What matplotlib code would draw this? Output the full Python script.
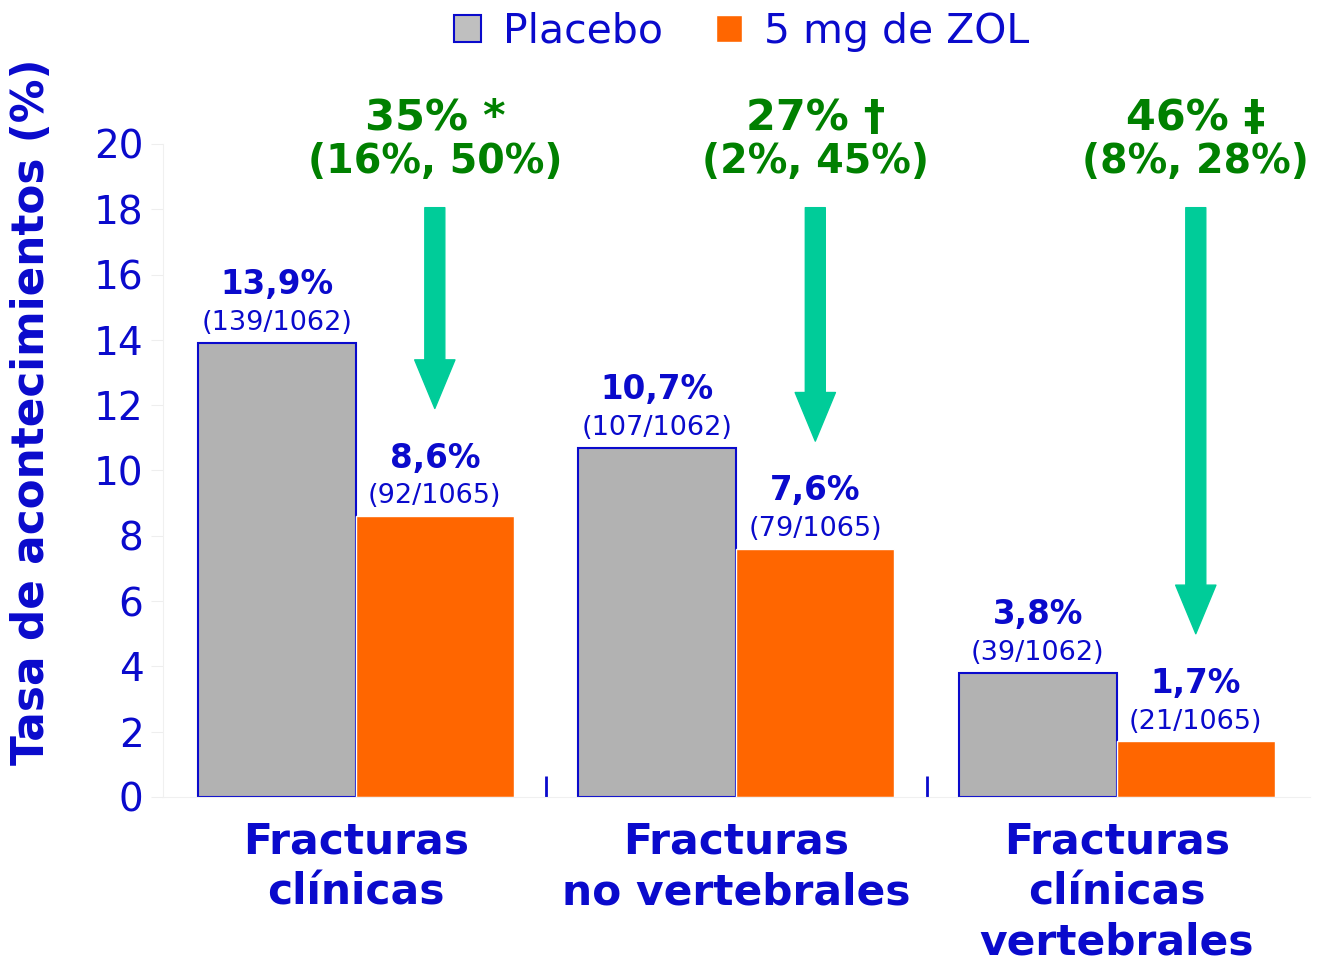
import numpy as np
import matplotlib
matplotlib.use("Agg")
from matplotlib import pyplot as plt
from matplotlib.patches import Patch
import matplotlib.transforms as mtransforms

categories = ["Fracturas\nclínicas", "Fracturas\nno vertebrales", "Fracturas\nclínicas\nvertebrales"]
placebo = [13.9, 10.7, 3.8]
zol = [8.6, 7.6, 1.7]
placebo_labels = ["13,9%", "10,7%", "3,8%"]
placebo_counts = ["(139/1062)", "(107/1062)", "(39/1062)"]
zol_labels = ["8,6%", "7,6%", "1,7%"]
zol_counts = ["(92/1065)", "(79/1065)", "(21/1065)"]
reduction = ["35% *", "27% †", "46% ‡"]
reduction_ci = ["(16%, 50%)", "(2%, 45%)", "(8%, 28%)"]

BLUE = "#0A0ACC"
GRAY = "#B2B2B2"
ORANGE = "#FF6600"
GREEN = "#008000"
ARROW = "#00CC99"

plt.rcParams['font.family'] = ['DejaVu Sans']

fig = plt.figure(figsize=(13.27, 9.6), dpi=100)
ax = fig.add_axes([0.1228, 0.1698, 0.8642, 0.6802])

x = np.arange(len(categories))
w = 0.415
ax.bar(x - w / 2, placebo, w, color=GRAY, edgecolor=BLUE, linewidth=1.5)
ax.bar(x + w / 2, zol, w, color=ORANGE, edgecolor="white", linewidth=1)

for i in range(len(x)):
    for xpos, val, lab, cnt in [(x[i] - w / 2, placebo[i], placebo_labels[i], placebo_counts[i]),
                                (x[i] + w / 2, zol[i], zol_labels[i], zol_counts[i])]:
        ax.annotate(cnt, (xpos, val), xytext=(0, 5), textcoords="offset points",
                    ha="center", va="bottom", color=BLUE, fontsize=19.5)
        ax.annotate(lab, (xpos, val), xytext=(0, 30), textcoords="offset points",
                    ha="center", va="bottom", color=BLUE, fontsize=23.5, fontweight="bold")

# reduction arrows and text
trans = mtransforms.blended_transform_factory(ax.transData, ax.transAxes)
for i in range(len(x)):
    xa = x[i] + w / 2
    ax.annotate("", xy=(xa, zol[i] + 3.3), xytext=(xa, 18.05),
                arrowprops=dict(arrowstyle="simple,head_width=1.45,head_length=1.75,tail_width=0.72",
                                color=ARROW, mutation_scale=20, shrinkA=0, shrinkB=0))
    ax.text(xa, 0.972, reduction_ci[i], transform=trans, ha="center", va="center",
            color=GREEN, fontsize=28.5, fontweight="bold", clip_on=False)
    ax.text(xa, 1.040, reduction[i], transform=trans, ha="center", va="center",
            color=GREEN, fontsize=31, fontweight="bold", clip_on=False)

ax.set_xlim(-0.507, 2.507)
ax.set_ylim(0, 20)
ax.set_yticks(np.arange(0, 21, 2))
ax.tick_params(axis="y", colors="#EEEEEE", labelcolor=BLUE, labelsize=28, length=9, pad=5)
ax.set_xticks(x)
ax.set_xticklabels(categories, color=BLUE, fontsize=30.5, fontweight="bold", linespacing=1.26)
ax.tick_params(axis="x", length=0, pad=17)
ax.set_xticks([0.5, 1.5], minor=True)
ax.tick_params(axis="x", which="minor", direction="in", length=15, width=2, color=BLUE)

for s in ["top", "right"]:
    ax.spines[s].set_visible(False)
ax.spines["left"].set_color("#F0F0F0")
ax.spines["bottom"].set_color("#F0F0F0")

ax.set_ylabel("Tasa de acontecimientos (%)", color=BLUE, fontsize=31.5, fontweight="bold")
ax.yaxis.set_label_coords(-0.096, 0.59)

handles = [Patch(facecolor="#BFBFBF", edgecolor=BLUE, linewidth=1.5, label="Placebo"),
           Patch(facecolor=ORANGE, edgecolor="white", label="5 mg de ZOL")]
leg = fig.legend(handles=handles, loc="center", bbox_to_anchor=(0.559, 0.967), ncol=2,
                 frameon=False, fontsize=29.5, handlelength=0.65, handleheight=0.65,
                 columnspacing=1.3, handletextpad=0.53)
for t in leg.get_texts():
    t.set_color(BLUE)

fig.savefig("out.png", dpi=100)
